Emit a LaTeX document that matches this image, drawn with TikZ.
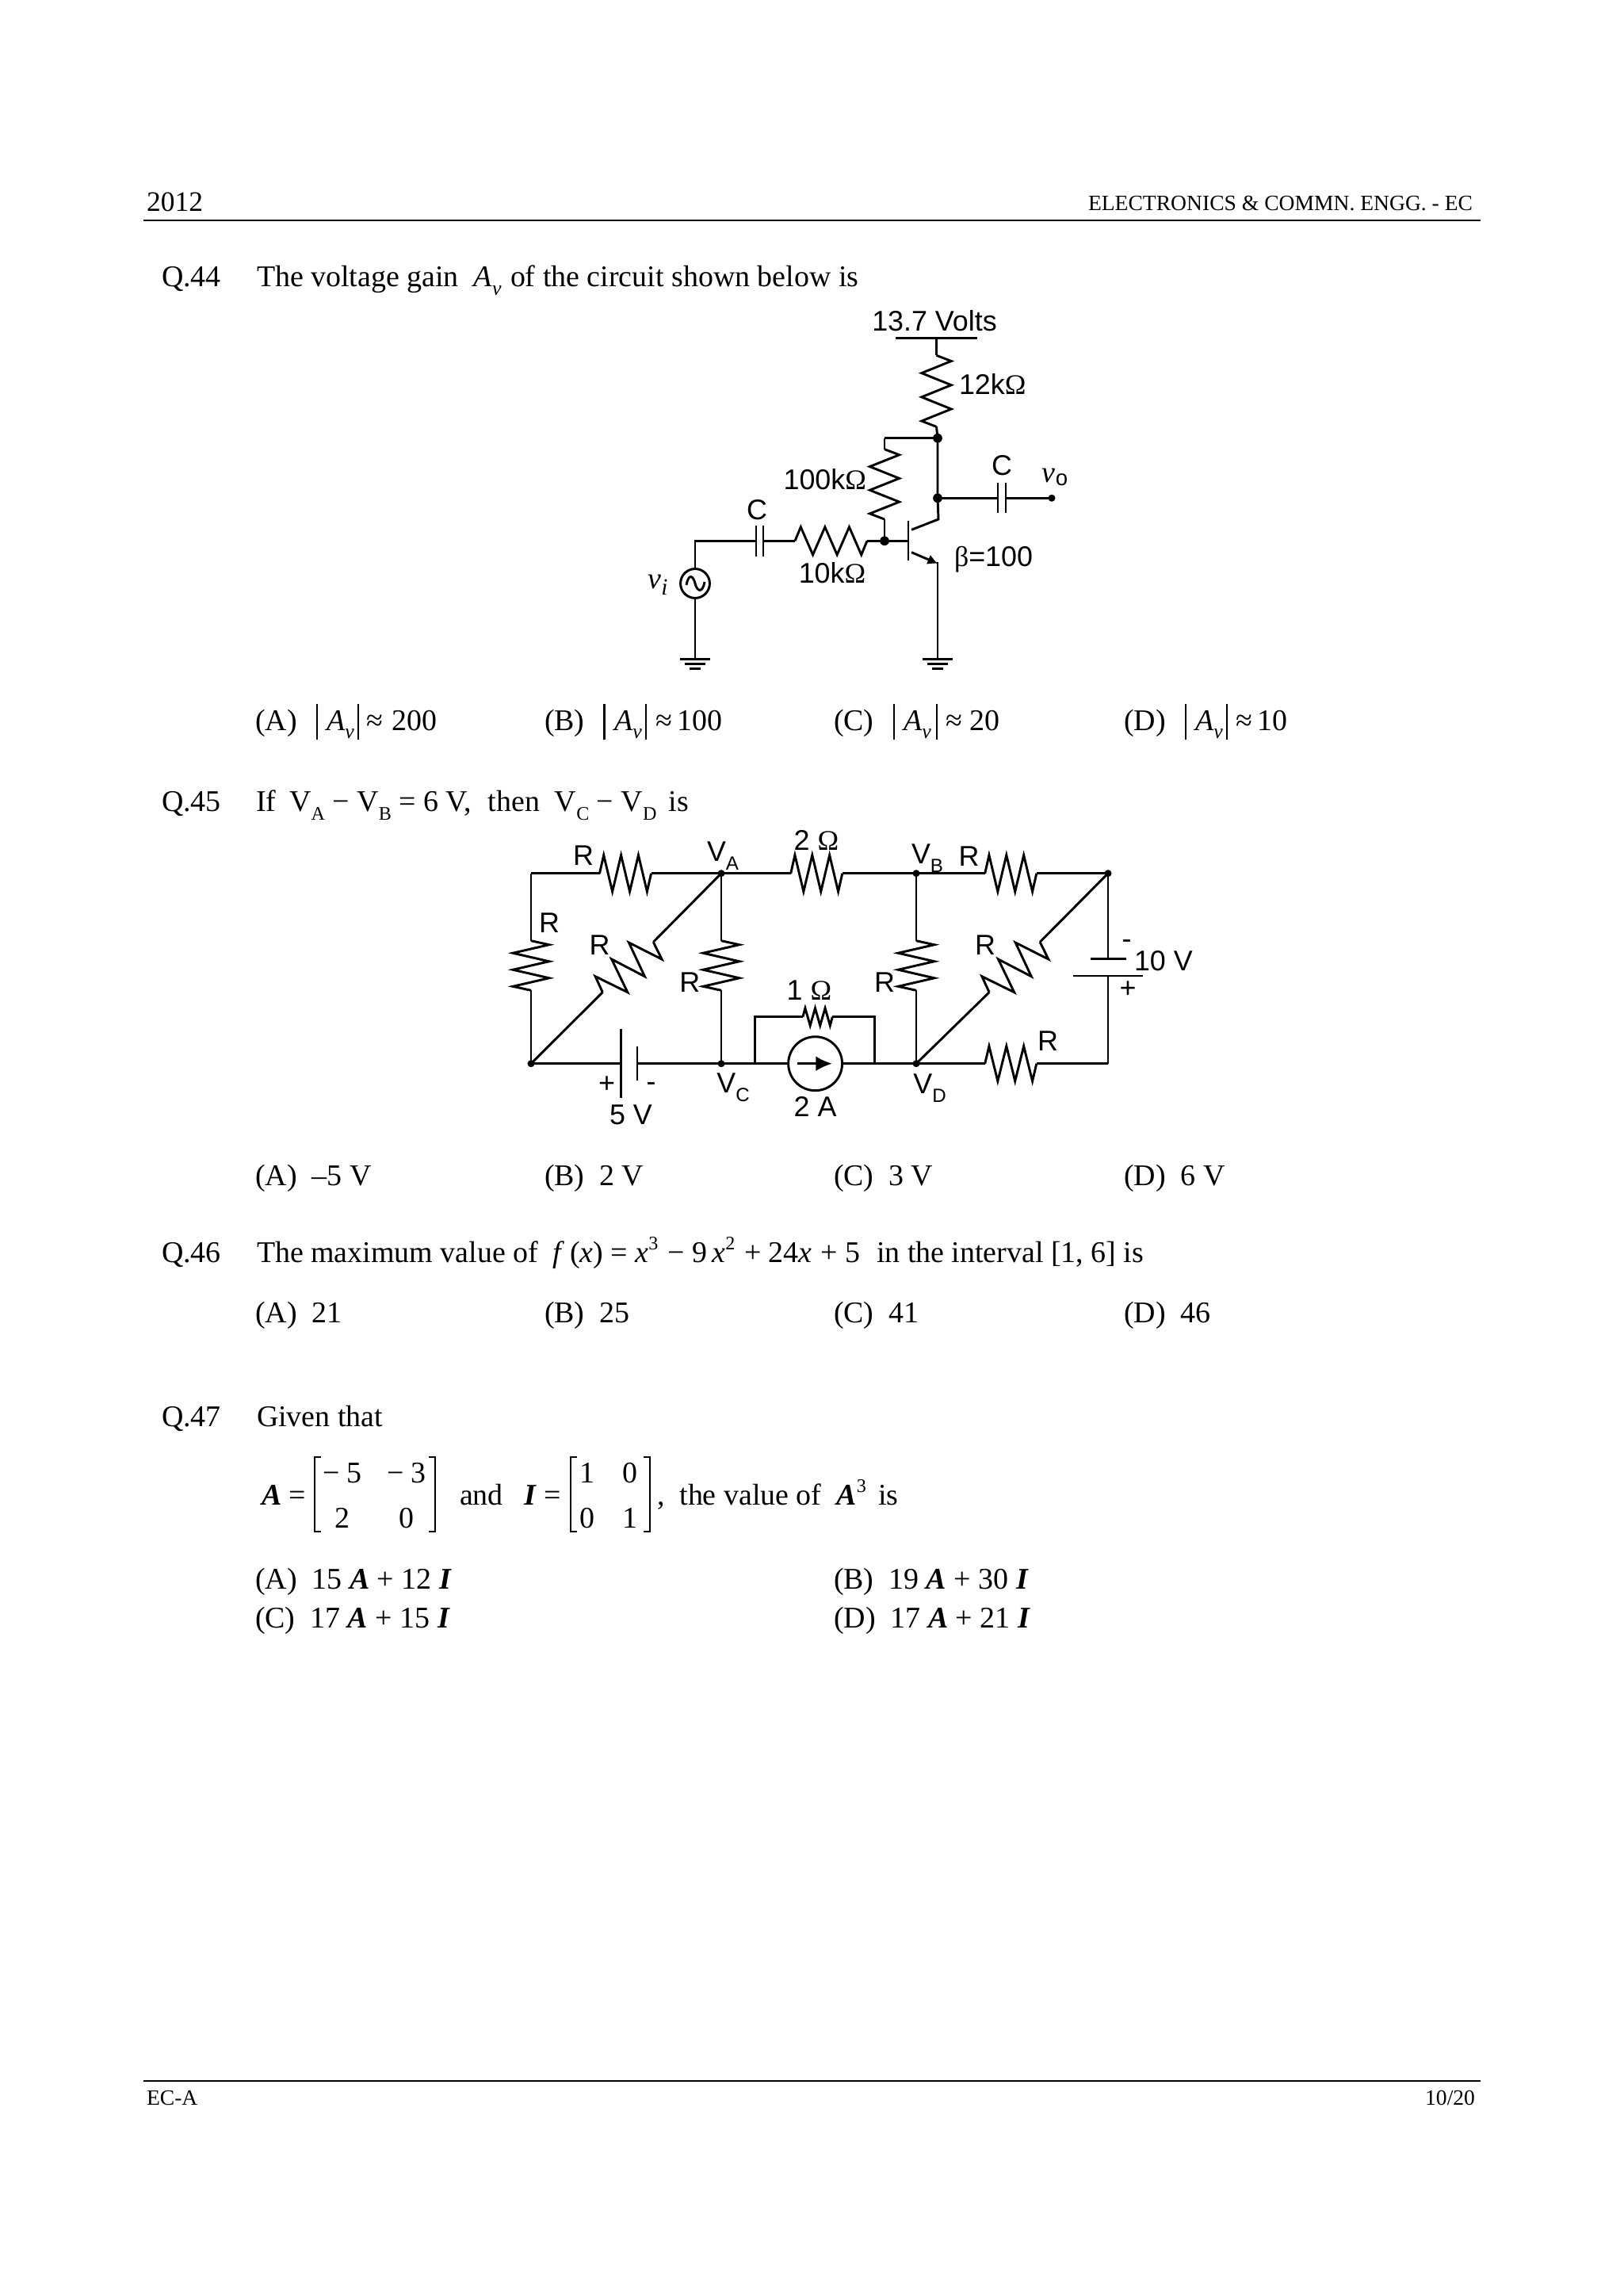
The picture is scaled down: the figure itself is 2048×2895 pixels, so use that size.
\documentclass[tikz,border=0pt]{standalone}
\usepackage{fontspec}
\usetikzlibrary{calc,arrows.meta}
\setmainfont{Liberation Serif}
\newfontfamily\labfont{Liberation Sans}
\newcommand{\sbx}[1]{\raisebox{-.28em}{\fontsize{7.5}{9}\selectfont #1}}
\newcommand{\spx}[1]{\raisebox{.42em}{\fontsize{7}{9}\selectfont #1}}
\newcommand{\bi}[1]{\textbf{\textit{#1}}}
\newcommand{\Vsub}[1]{V\raisebox{-.3em}{\fontsize{7}{9}\selectfont #1}}
\tikzset{
  x=0.29pt,y=-0.29pt,
  wire/.style={line width=.85pt,line join=miter},
  thinw/.style={line width=.7pt},
  txt/.style={anchor=base west,inner sep=0pt,outer sep=0pt,font=\fontsize{11}{13}\selectfont},
  hdr/.style={txt,font=\fontsize{10.3}{12}\selectfont},
  lab/.style={inner sep=0pt,outer sep=0pt,font=\fontsize{10.4}{13}\selectfont\labfont},
  dot/.style={circle,fill=black,inner sep=0pt,minimum size=3.4pt},
  bigdot/.style={circle,fill=black,inner sep=0pt,minimum size=2.6pt},
  src/.style={circle,draw,line width=.85pt,inner sep=0pt},
}
% horizontal resistor: first peak up; vertical resistor: first peak to the right
\newcommand{\zigh}[3]{\draw[wire] (#1) foreach \f/\s in {.08/-1,.248/1,.416/-1,.584/1,.752/-1,.92/1} { -- ($(#1)!\f!(#2)+(0,\s*#3)$) } -- (#2);}
\newcommand{\zigv}[3]{\draw[wire] (#1) foreach \f/\s in {.08/1,.248/-1,.416/1,.584/-1,.752/1,.92/-1} { -- ($(#1)!\f!(#2)+(\s*#3,0)$) } -- (#2);}
\newcommand{\zigd}[1]{\draw[wire] (#1) -- +(10.7,21.7) -- +(-30.9,.7) -- +(-10.9,43.4) -- +(-52.6,21.7) -- +(-32.5,63.4) -- +(-73.2,43.4) -- +(-64,63.4);}
\newcommand{\gnd}[2]{\coordinate (#1) at (#2);
  \draw[wire] ($(#1)+(-19,0)$) -- ($(#1)+(19,0)$);
  \draw[wire] ($(#1)+(-13,6)$) -- ($(#1)+(13,6)$);
  \draw[wire] ($(#1)+(-7,12)$) -- ($(#1)+(7,12)$);}
\newcommand{\avopt}[8]{%
  \node[txt] (o#1) at (#2,921) {#3};
  \draw[thinw] (#4,888) -- (#4,933);
  \node[txt] (a#1) at (#5,921) {\textit{A}\sbx{\textit{v}}};
  \draw[thinw] (#6,888) -- (#6,933);
  \node[txt] (v#1) at (#7,921) {≈\,#8};}
\begin{document}
\begin{tikzpicture}
\useasboundingbox (0,0) rectangle (2048,2895);
\fill[white] (0,0) rectangle (2048,2895);
% ---------- header
\node[hdr] (hyear) at (185,267) {2012};
\node[txt,font=\fontsize{8}{10}\selectfont] (htitle) at (1373,266) {ELECTRONICS \& COMMN. ENGG. - EC};
\coordinate (hl) at (181,278); \coordinate (hr) at (1868,278);
\draw[line width=.6pt] (hl) -- (hr);
% ---------- Q44
\node[txt] (q44) at (204,362) {Q.44};
\node[txt] (q44t) at (324,362) {The voltage gain\hspace{.5em}\textit{A}\sbx{\textit{v}}\hspace{.3em}of the circuit shown below is};
\coordinate (railL) at (1130,426.7); \coordinate (railR) at (1233,426.7);
\coordinate (railM) at (1181.5,426.7);
\draw[wire] (railL) -- (railR);
\node[lab] (v137) at (1179,405) {13.7 Volts};
\coordinate (r1a) at (1181.5,448.3); \coordinate (r1b) at (1181.5,538.3);
\draw[wire] (railM) -- (r1a);
\zigv{r1a}{r1b}{18.7}
\node[dot] (nTop) at (1183,552.7) {};
\draw[wire] (r1b) -- (nTop.center);
\node[lab,anchor=west] (l12k) at (1210,485) {12k{\rmfamily Ω}};
\coordinate (tl) at (1116,552.7);
\draw[wire] (nTop.center) -- (tl);
\coordinate (r2a) at (1116,566.7); \coordinate (r2b) at (1116,655);
\draw[wire] (tl) -- (r2a);
\zigv{r2a}{r2b}{18.6}
\node[lab,anchor=east] (l100k) at (1093,605) {100k{\rmfamily Ω}};
\node[dot] (nBase) at (1116,682.3) {};
\draw[wire] (r2b) -- (nBase.center);
% input branch
\node[src,minimum size=10.7pt] (vs) at (877,736) {};
\draw[wire] (vs.north) -- (877,682.3) coordinate (inC) -- (954,682.3) coordinate (c1a);
\draw[wire] (954,663.3) -- (954,701.7);
\draw[wire] (963,663.3) -- (963,701.7);
\coordinate (c1b) at (963,682.3);
\coordinate (r3a) at (1003,682.3); \coordinate (r3b) at (1094,682.3);
\draw[wire] (c1b) -- (r3a);
\zigh{r3a}{r3b}{17.5}
\draw[wire] (r3b) -- (nBase.center) -- (1146,682.3) coordinate (bb);
\draw[wire] (1146,657.3) -- (1146,707.3);
\draw[wire] (866,738) .. controls (869,722) and (875,727) .. (877,736) .. controls (879,745) and (886,750) .. (889,734);
\node[lab] (lC1) at (955,643) {C};
\node[lab] (l10k) at (1050,723) {10k{\rmfamily Ω}};
\node[txt,anchor=center,font=\fontsize{11}{13}\selectfont\itshape] (lvi) at (830,738) {v\raisebox{-.2em}{\fontsize{8.5}{10}\selectfont i}};
\gnd{g1}{877,831.7}
\draw[wire] (vs.south) -- (g1);
% transistor
\coordinate (cTop) at (1184,655); \coordinate (cIn) at (1150,668.3);
\node[dot] (nOut) at (1183,628.3) {};
\draw[wire] (nTop.center) -- (nOut.center) -- (cTop) -- (cIn);
\coordinate (eIn) at (1150,696.7); \coordinate (eOut) at (1183.5,711);
\draw[wire,-{Latex[length=3.8pt,width=3.8pt]}] (eIn) -- (eOut);
\gnd{g2}{1183,831.7}
\draw[wire] (1183,709) -- (g2);
\node[lab,anchor=west] (lbeta) at (1204,706) {{\rmfamily β}=100};
% output
\coordinate (c2a) at (1259,628.3); \coordinate (c2b) at (1269,628.3);
\node[bigdot] (nVo) at (1327,628.3) {};
\draw[wire] (nOut.center) -- (c2a); \draw[wire] (c2b) -- (nVo.center);
\draw[wire] (1259,609.3) -- (1259,647.3);
\draw[wire] (1269,609.3) -- (1269,647.3);
\node[lab] (lC2) at (1264,587) {C};
\node[txt,anchor=center] (lvo) at (1331,602) {{\fontsize{11}{13}\selectfont\itshape v}\raisebox{-.1em}{\fontsize{8}{10}\selectfont\labfont o}};
% options
\avopt{a}{322}{(A)}{400}{412}{452}{462}{\kern1.5pt 200}
\avopt{b}{687}{(B)}{762.5}{775}{815}{827}{100}
\avopt{c}{1052}{(C)}{1128}{1140}{1182}{1193}{\kern1pt 20}
\avopt{d}{1418}{(D)}{1496}{1508}{1548}{1559}{10}
% ---------- Q45
\node[txt] (q45) at (204,1023) {Q.45};
\node[txt] (q45t) at (323,1023) {If\hspace{.45em}\Vsub{A} − \Vsub{B} = 6 V,\hspace{.55em}then\hspace{.5em}\Vsub{C} − \Vsub{D}\hspace{.4em}is};
\coordinate (tlc) at (670,1101.7);
\node[bigdot] (nA) at (910,1101.7) {};
\node[bigdot] (nB) at (1156,1101.7) {};
\node[bigdot] (nTR) at (1398,1101.7) {};
\node[bigdot] (nBL) at (670,1341.7) {};
\node[bigdot] (nC) at (910,1341.7) {};
\node[bigdot] (nD) at (1156,1341.7) {};
\coordinate (brc) at (1398,1341.7);
% top resistors
\coordinate (ra1) at (756.5,1101.7); \coordinate (ra2) at (821.6,1101.7);
\draw[wire] (tlc) -- (ra1); \zigh{ra1}{ra2}{23} \draw[wire] (ra2) -- (nA.center);
\coordinate (rb1) at (997.7,1101.7); \coordinate (rb2) at (1062.8,1101.7);
\draw[wire] (nA.center) -- (rb1); \zigh{rb1}{rb2}{23} \draw[wire] (rb2) -- (nB.center);
\coordinate (rc1) at (1242.7,1101.7); \coordinate (rc2) at (1307.8,1101.7);
\draw[wire] (nB.center) -- (rc1); \zigh{rc1}{rc2}{23} \draw[wire] (rc2) -- (nTR.center);
% vertical resistors
\coordinate (rd1) at (670,1186.7); \coordinate (rd2) at (670,1249.3);
\draw[wire] (tlc) -- (rd1); \zigv{rd1}{rd2}{22.8} \draw[wire] (rd2) -- (nBL.center);
\coordinate (re1) at (910,1186.7); \coordinate (re2) at (910,1249.3);
\draw[wire] (nA.center) -- (re1); \zigv{re1}{re2}{22.8} \draw[wire] (re2) -- (nC.center);
\coordinate (rf1) at (1156,1186.7); \coordinate (rf2) at (1156,1249.3);
\draw[wire] (nB.center) -- (rf1); \zigv{rf1}{rf2}{22.8} \draw[wire] (rf2) -- (nD.center);
% diagonal resistors
\coordinate (dl1) at (824.3,1188.3); \coordinate (dl2) at (760.3,1251.7);
\draw[wire] (nA.center) -- (dl1); \zigd{dl1} \draw[wire] (dl2) -- (nBL.center);
\coordinate (dr1) at (1312.1,1188.3); \coordinate (dr2) at (1248.1,1251.7);
\draw[wire] (nTR.center) -- (dr1); \zigd{dr1} \draw[wire] (dr2) -- (nD.center);
% 5 V battery
\coordinate (b5a) at (783.6,1341.7); \coordinate (b5b) at (804,1341.7);
\draw[wire] (nBL.center) -- (b5a); \draw[wire] (b5b) -- (nC.center);
\draw[wire] (783.6,1298.3) -- (783.6,1385);
\draw[wire] (804,1320) -- (804,1363.3);
% current source and 1 ohm
\node[src,minimum size=19.7pt] (cs) at (1028.6,1341.7) {};
\coordinate (pl) at (952.7,1341.7); \coordinate (pr) at (1103.4,1341.7);
\draw[wire] (nC.center) -- (cs.west); \draw[wire] (cs.east) -- (nD.center);
\coordinate (rg1) at (1012.9,1282.7); \coordinate (rg2) at (1050.3,1282.7);
\draw[wire] (pl) -- (952.7,1282.7) -- (rg1); \zigh{rg1}{rg2}{11} \draw[wire] (rg2) -- (1103.4,1282.7) -- (pr);
\coordinate (ar1) at (1006,1341.7); \coordinate (ar2) at (1050,1341.7);
\draw[line width=1pt,-{Latex[length=6pt,width=5.5pt]}] (ar1) -- (ar2);
% bottom right resistor and 10 V battery
\coordinate (rh1) at (1242.7,1341.7); \coordinate (rh2) at (1307.8,1341.7);
\draw[wire] (nD.center) -- (rh1); \zigh{rh1}{rh2}{22} \draw[wire] (rh2) -- (brc);
\coordinate (b10a) at (1398,1209.3); \coordinate (b10b) at (1398,1231);
\draw[wire] (nTR.center) -- (b10a); \draw[wire] (b10b) -- (brc);
\draw[wire] (1376,1209.3) -- (1420.5,1209.3);
\draw[wire] (1354,1231) -- (1442,1231);
% labels
\node[lab] (t1) at (736,1079) {R};
\node[lab] (t2) at (912,1080) {\Vsub{A}};
\node[lab] (t3) at (1030,1060) {2 {\rmfamily Ω}};
\node[lab] (t4) at (1170,1083) {\Vsub{B}};
\node[lab] (t5) at (1222.6,1080) {R};
\node[lab] (t6) at (693,1164.3) {R};
\node[lab] (t7) at (756.5,1191.7) {R};
\node[lab] (t8) at (870.4,1239) {R};
\node[lab] (t9) at (1116,1239) {R};
\node[lab] (t10) at (1243,1191.7) {R};
\node[lab] (t11) at (1322,1313.3) {R};
\node[lab] (t12) at (1021,1249) {1 {\rmfamily Ω}};
\node[lab] (t13) at (925,1372) {\Vsub{C}};
\node[lab] (t14) at (1173,1373) {\Vsub{D}};
\node[lab] (t15) at (1028.6,1396) {2 A};
\node[lab] (t16) at (796,1406) {5 V};
\node[lab] (t17) at (765.7,1368) {+};
\node[lab] (t18) at (821.6,1371) {-};
\node[lab] (t19) at (1421.6,1191) {-};
\node[lab] (t20) at (1423,1248) {+};
\node[lab,anchor=west] (t21) at (1431,1212) {10 V};
% options Q45
\node[txt] (p1) at (322,1495) {(A)\hspace{.5em}–5 V};
\node[txt] (p2) at (687,1495) {(B)\hspace{.5em}2 V};
\node[txt] (p3) at (1052,1495) {(C)\hspace{.5em}3 V};
\node[txt] (p4) at (1418,1495) {(D)\hspace{.5em}6 V};
% ---------- Q46
\node[txt] (q46) at (204,1592.5) {Q.46};
\node[txt] (q46t) at (324,1592.5) {The maximum value of\hspace{.5em}\textit{f}\,(\textit{x}) = \textit{x}\spx{3}\hspace{.06em} − 9\,\textit{x}\spx{2}\hspace{.06em} + 24\textit{x}\hspace{.03em} + 5\hspace{.55em}in the interval [1, 6] is};
\node[txt] (r1) at (322,1668.5) {(A)\hspace{.5em}21};
\node[txt] (r2) at (687,1668.5) {(B)\hspace{.5em}25};
\node[txt] (r3) at (1052,1668.5) {(C)\hspace{.5em}41};
\node[txt] (r4) at (1418,1668.5) {(D)\hspace{.5em}46};
% ---------- Q47
\node[txt] (q47) at (204,1799.5) {Q.47};
\node[txt] (q47t) at (324,1799.5) {Given that};
\node[txt] (mA) at (330,1898) {\bi{A} =};
\draw[wire] (405,1838) -- (397,1838) -- (397,1932) -- (405,1932);
\draw[wire] (541,1838) -- (549,1838) -- (549,1932) -- (541,1932);
\node[txt,anchor=base] (m11) at (432,1870) {− 5};
\node[txt,anchor=base] (m12) at (513,1870) {− 3};
\node[txt,anchor=base] (m21) at (432,1927) {2};
\node[txt,anchor=base] (m22) at (513,1927) {0};
\node[txt] (and) at (580,1898) {and};
\node[txt] (mI) at (661,1898) {\bi{I} =};
\draw[wire] (728,1838) -- (720,1838) -- (720,1932) -- (728,1932);
\draw[wire] (812,1838) -- (820,1838) -- (820,1932) -- (812,1932);
\node[txt,anchor=base] (n11) at (741,1870) {1};
\node[txt,anchor=base] (n12) at (795,1870) {0};
\node[txt,anchor=base] (n21) at (741,1927) {0};
\node[txt,anchor=base] (n22) at (795,1927) {1};
\node[txt] (mrest) at (829,1898) {,\hspace{.5em}the value of\hspace{.5em}\bi{A}\spx{3}\hspace{.4em}is};
\node[txt] (s1) at (322,2004.5) {(A)\hspace{.5em}15 \bi{A} + 12 \bi{I}};
\node[txt] (s2) at (1052,2004.5) {(B)\hspace{.5em}19 \bi{A} + 30 \bi{I}};
\node[txt] (s3) at (322,2053.5) {(C)\hspace{.5em}17 \bi{A} + 15 \bi{I}};
\node[txt] (s4) at (1052,2053.5) {(D)\hspace{.5em}17 \bi{A} + 21 \bi{I}};
% ---------- footer
\coordinate (fl) at (181,2625); \coordinate (fr) at (1868,2625);
\draw[line width=.6pt] (fl) -- (fr);
\node[txt,font=\fontsize{8}{10}\selectfont] (fa) at (185,2655) {EC-A};
\node[txt,anchor=base east,font=\fontsize{8}{10}\selectfont] (fb) at (1861,2655) {10/20};
\end{tikzpicture}
\end{document}
